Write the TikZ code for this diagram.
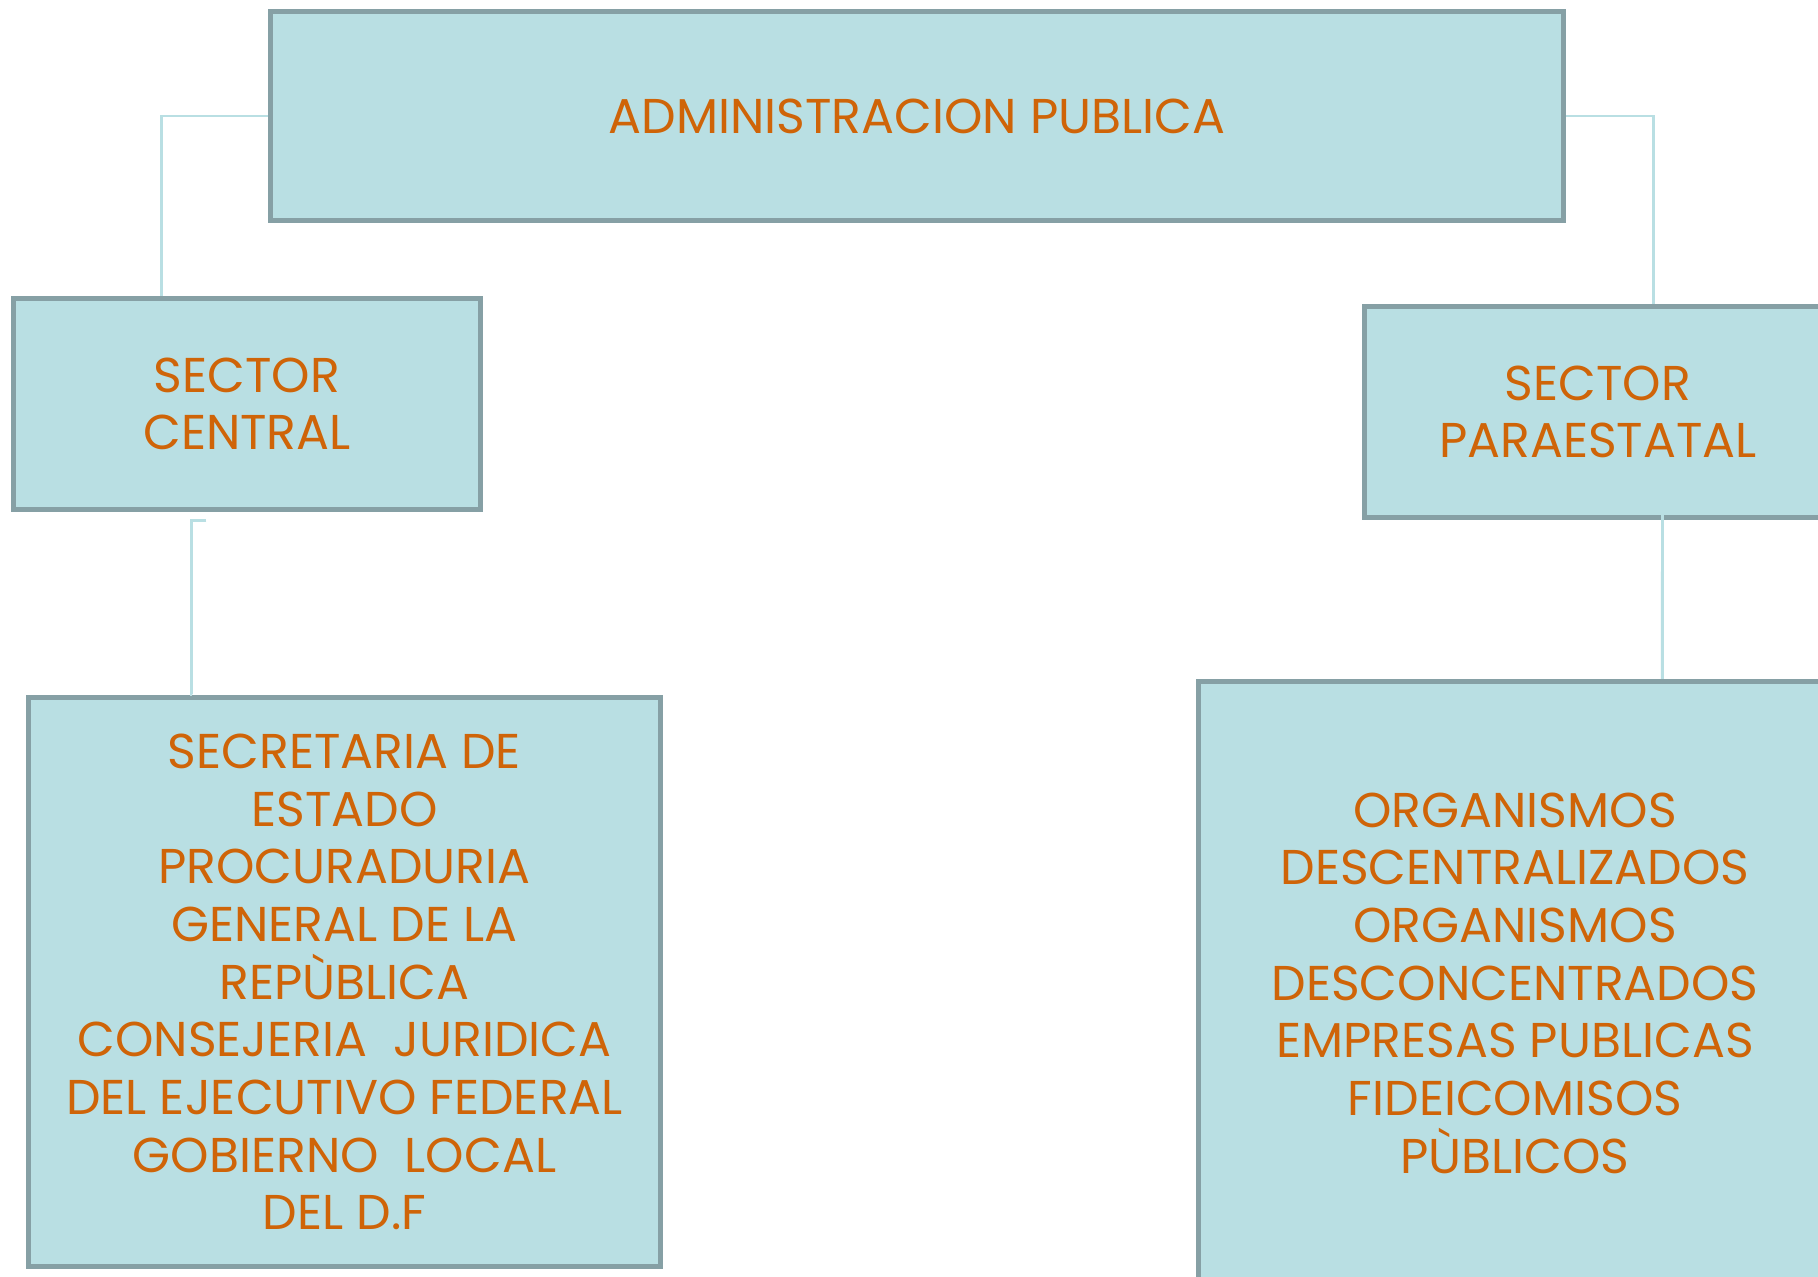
\documentclass[tikz,border=0pt]{standalone}
\usepackage{fontspec}
\setmainfont{Poppins}
\usetikzlibrary{calc}

\definecolor{boxfill}{RGB}{185,223,227}
\definecolor{boxline}{RGB}{134,160,165}
\definecolor{linkline}{RGB}{185,223,227}
\definecolor{txtorange}{RGB}{207,100,8}

\tikzset{
  orgbox/.style={draw=boxline, fill=boxfill, line width=1.4pt, align=center,
    text=txtorange, font=\fontsize{13.9}{16.4}\selectfont, inner sep=0pt},
  link/.style={draw=linkline, line width=0.8pt}
}

\begin{document}
\begin{tikzpicture}[x=0.01cm,y=-0.01cm]
\useasboundingbox[fill=white] (0,0) rectangle (1818,1277);

% Boxes
\node[orgbox, minimum width=12.92cm, minimum height=2.08cm] (admin) at (917,116)
  {ADMINISTRACION PUBLICA};
\node[orgbox, minimum width=4.66cm, minimum height=2.10cm] (central) at (247,404)
  {SECTOR\\CENTRAL};
\node[orgbox, minimum width=4.66cm, minimum height=2.10cm] (paraest) at (1598,412)
  {SECTOR\\PARAESTATAL};
\node[orgbox, minimum width=6.31cm, minimum height=5.69cm] (secret) at (344.5,982)
  {SECRETARIA DE\\ESTADO\\PROCURADURIA\\GENERAL DE LA\\REPÙBLICA\\CONSEJERIA\ \ JURIDICA\\DEL EJECUTIVO FEDERAL\\GOBIERNO\ \ LOCAL\\DEL D.F};
\node[orgbox, minimum width=6.32cm, minimum height=6.03cm] (organ) at (1515,983)
  {ORGANISMOS\\DESCENTRALIZADOS\\ORGANISMOS\\DESCONCENTRADOS\\EMPRESAS PUBLICAS\\FIDEICOMISOS\\PÙBLICOS};

% Connectors
\draw[link] (admin.west) -| ($(central.north west)+(150,0)$);
\draw[link] (admin.east) -| ($(paraest.north west)+(291,0)$);
\coordinate (cfoot) at ($(central.south west)+(195,9)$);
\draw[link] (cfoot) -- ++(-15,0) |- ($(secret.north west)+(166,0)$);
\coordinate (pfoot) at ($(paraest.south west)+(315,-14)$);
\draw[link] (pfoot) -- ++(-15,0) -- ($(organ.north west)+(466,0)$);
\end{tikzpicture}
\end{document}
